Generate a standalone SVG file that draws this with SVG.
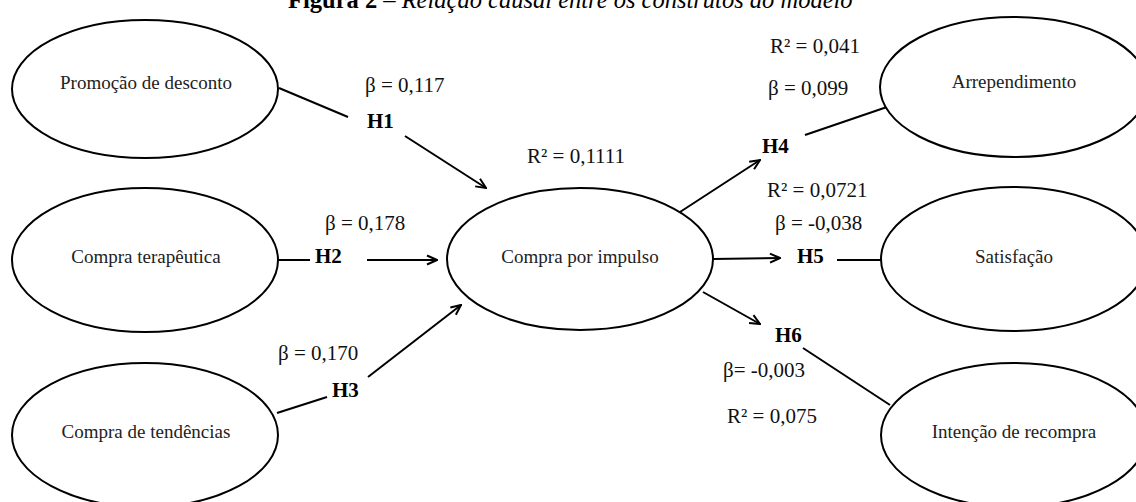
<svg xmlns="http://www.w3.org/2000/svg" width="1136" height="502" viewBox="0 0 1136 502">
<style>
.n{fill:#fff;stroke:#000;stroke-width:2}
.nt{font-family:"Liberation Serif",serif;font-size:19px;fill:#222;text-anchor:middle}
.l{font-family:"Liberation Serif",serif;font-size:21px;fill:#111}
.h{font-family:"Liberation Serif",serif;font-size:21px;font-weight:bold;fill:#000}
.c{stroke:#000;stroke-width:2;fill:none}
.a{marker-end:url(#ah)}
</style>
<defs>
<marker id="ah" viewBox="0 0 12 12" refX="11" refY="6" markerWidth="12" markerHeight="12" markerUnits="userSpaceOnUse" orient="auto">
<path d="M1,1.5 L11,6 L1,10.5" fill="none" stroke="#000" stroke-width="2"/>
</marker>
</defs>
<rect width="1136" height="502" fill="#fff"/>
<g id="title">
<text x="288" y="8" font-family="Liberation Serif,serif" font-size="24.5"><tspan font-weight="bold">Figura 2</tspan> – <tspan font-style="italic">Relação causal entre os construtos do modelo</tspan></text>
</g>
<g id="connectors">
<line class="c" x1="279" y1="88" x2="348" y2="117"/>
<line class="c a" x1="405" y1="136" x2="486" y2="188"/>
<line class="c" x1="278" y1="260" x2="310" y2="260"/>
<line class="c a" x1="367" y1="260" x2="437" y2="260"/>
<line class="c" x1="277" y1="413" x2="327" y2="397"/>
<line class="c a" x1="368" y1="377" x2="461" y2="305"/>
<line class="c a" x1="680" y1="212" x2="760" y2="160"/>
<line class="c" x1="805" y1="135" x2="887" y2="107"/>
<line class="c a" x1="713" y1="259" x2="780" y2="258"/>
<line class="c" x1="837" y1="260" x2="881" y2="260"/>
<line class="c a" x1="703" y1="292" x2="760" y2="324"/>
<line class="c" x1="803" y1="348" x2="890" y2="405"/>
</g>
<g id="labels">
<text class="l" x="365" y="92">β = 0,117</text>
<text class="h" x="367" y="128">H1</text>
<text class="l" x="325" y="230">β = 0,178</text>
<text class="h" x="315" y="263">H2</text>
<text class="l" x="278" y="360">β = 0,170</text>
<text class="h" x="332" y="397">H3</text>
<text class="l" x="527" y="163">R² = 0,1111</text>
<text class="l" x="770" y="53">R² = 0,041</text>
<text class="l" x="768" y="95">β = 0,099</text>
<text class="h" x="762" y="153">H4</text>
<text class="l" x="767" y="197">R² = 0,0721</text>
<text class="l" x="775" y="230">β = -0,038</text>
<text class="h" x="797" y="263">H5</text>
<text class="h" x="775" y="342">H6</text>
<text class="l" x="723" y="377">β= -0,003</text>
<text class="l" x="727" y="423">R² = 0,075</text>
</g>
<g id="promocao"><ellipse class="n" cx="145" cy="89" rx="133" ry="69"/><text class="nt" x="146" y="89">Promoção de desconto</text></g>
<g id="terapeutica"><ellipse class="n" cx="145" cy="260" rx="133" ry="72"/><text class="nt" x="146" y="263">Compra terapêutica</text></g>
<g id="tendencias"><ellipse class="n" cx="145" cy="435" rx="133" ry="72"/><text class="nt" x="146" y="438">Compra de tendências</text></g>
<g id="impulso"><ellipse class="n" cx="580" cy="259" rx="133" ry="71"/><text class="nt" x="580" y="263">Compra por impulso</text></g>
<g id="arrependimento"><ellipse class="n" cx="1014" cy="87" rx="134" ry="70"/><text class="nt" x="1014" y="88">Arrependimento</text></g>
<g id="satisfacao"><ellipse class="n" cx="1014" cy="259" rx="133" ry="72"/><text class="nt" x="1014" y="263">Satisfação</text></g>
<g id="recompra"><ellipse class="n" cx="1014" cy="435" rx="133" ry="72"/><text class="nt" x="1014" y="438">Intenção de recompra</text></g>
</svg>
